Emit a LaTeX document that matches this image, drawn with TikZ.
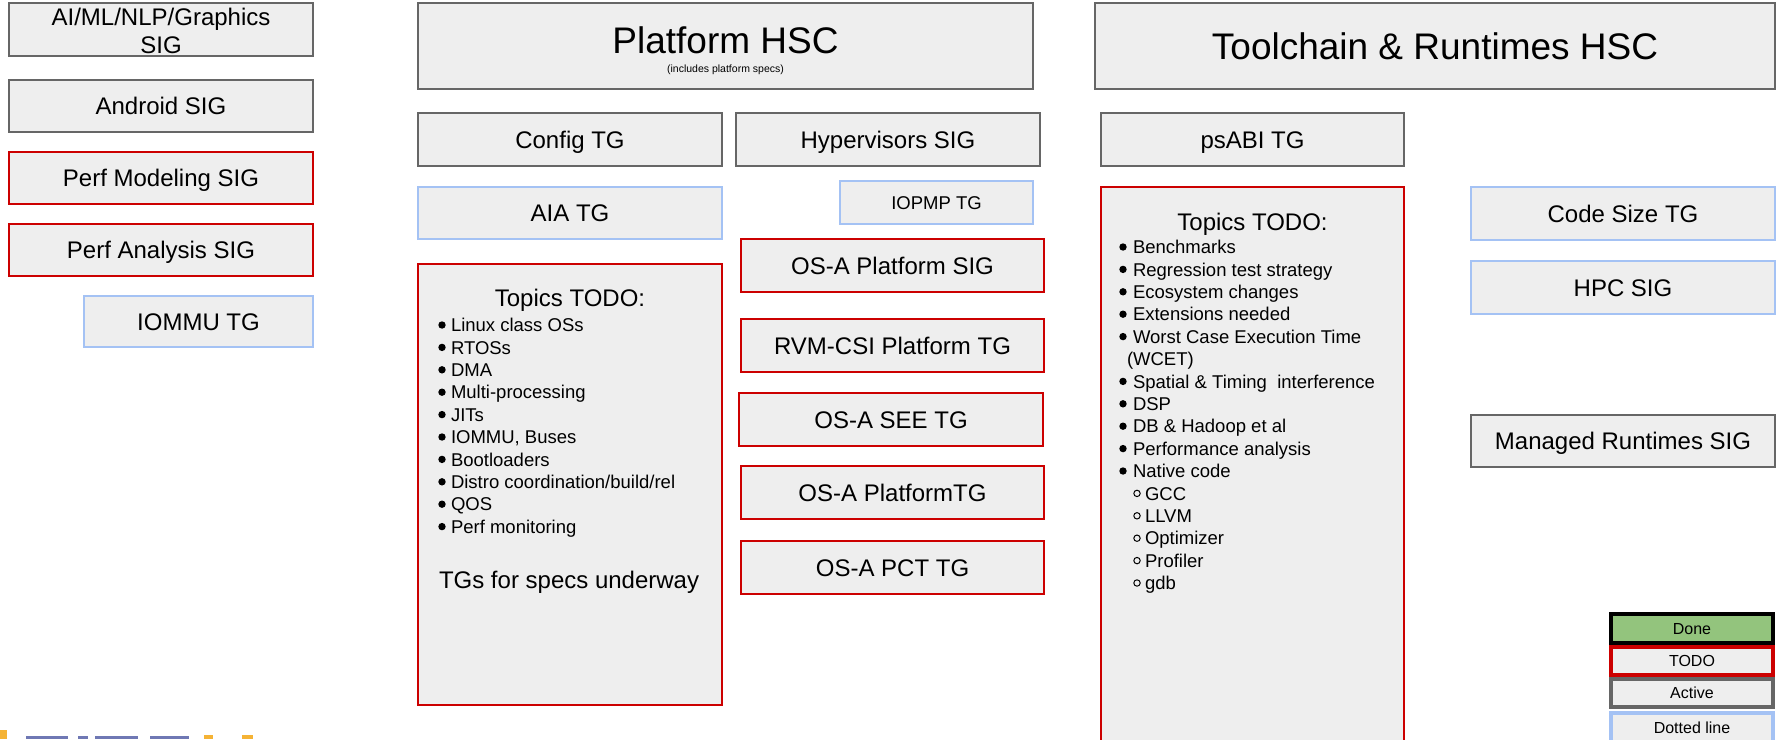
\documentclass[tikz,border=0pt]{standalone}
\usepackage{fontspec}
\setmainfont{Liberation Sans}
\definecolor{gfill}{HTML}{EEEEEE}
\definecolor{gline}{HTML}{666666}
\definecolor{rline}{HTML}{CC0000}
\definecolor{bline}{HTML}{A4C2F4}
\definecolor{donefill}{HTML}{93C47D}
\definecolor{logoorange}{HTML}{F5B335}
\definecolor{logoblue}{HTML}{6F78B4}
\newcommand\orgbox[7]{%
  \pgfmathsetmacro\obw{#5-#3}%
  \pgfmathsetmacro\obh{#6-#4}%
  \pgfmathsetmacro\obx{(#3+#5)/2}%
  \pgfmathsetmacro\oby{(#4+#6)/2}%
  \node[#2, minimum width=\obw pt, minimum height=\obh pt] (#1) at (\obx,\oby) {#7};%
}
\begin{document}
\begin{tikzpicture}[x=1pt,y=-1pt,
  base/.style={fill=gfill, line width=2pt, inner sep=0pt, outer sep=0pt, align=center},
  active/.style={base, draw=gline},
  todo/.style={base, draw=rline},
  dotl/.style={base, draw=bline},
  f37/.style={font=\fontsize{37}{42}\selectfont, text height=26.5pt, text depth=0pt},
  f24/.style={font=\fontsize{24}{28}\selectfont, text height=17.2pt, text depth=0pt},
  f18/.style={font=\fontsize{18.5}{22}\selectfont, text height=13.2pt, text depth=0pt},
  f16/.style={font=\fontsize{16}{19}\selectfont, text height=11.5pt, text depth=0pt},
  txt/.style={inner sep=0pt, outer sep=0pt},
  item/.style={txt, anchor=base west, font=\fontsize{18.5}{22}\selectfont},
  legbox/.style={base, line width=3.5pt, f16}
]
\useasboundingbox (0,0) rectangle (1783,739);
\clip (0,0) rectangle (1783,739);

% left column
\orgbox{ai}{active}{9}{3}{313}{56}{}
\node[txt, f24, anchor=base] (ait1) at (161,25) {AI/ML/NLP/Graphics};
\node[txt, f24, anchor=base] (ait2) at (161,53) {SIG};
\orgbox{android}{active,f24}{9}{80}{313}{132}{Android SIG}
\orgbox{perfmod}{todo,f24}{9}{152}{313}{204}{Perf Modeling SIG}
\orgbox{perfan}{todo,f24}{9}{224}{313}{276}{Perf Analysis SIG}
\orgbox{iommu}{dotl,f24}{84}{296}{313}{347}{IOMMU TG}

% platform HSC
\orgbox{phsc}{active}{418}{3}{1033}{89}{}
\node[txt, font=\fontsize{37}{42}\selectfont, anchor=base] (phsct) at (725.5,53) {Platform HSC};
\node[txt, font=\fontsize{10.5}{12}\selectfont, anchor=base] (phscs) at (725.5,72.5) {(includes platform specs)};
\orgbox{config}{active,f24}{418}{113}{722}{166}{Config TG}
\orgbox{hyper}{active,f24}{736}{113}{1040}{166}{Hypervisors SIG}
\orgbox{aia}{dotl,f24}{418}{187}{722}{239}{AIA TG}
\orgbox{iopmp}{dotl,f18}{840}{181}{1033}{224}{IOPMP TG}
\orgbox{osaps}{todo,f24}{741}{239}{1044}{292}{OS-A Platform SIG}
\orgbox{rvm}{todo,f24}{741}{319}{1044}{372}{RVM-CSI Platform TG}
\orgbox{osasee}{todo,f24}{739}{393}{1043}{446}{OS-A SEE TG}
\orgbox{osaptg}{todo,f24}{741}{466}{1044}{519}{OS-A PlatformTG}
\orgbox{osapct}{todo,f24}{741}{541}{1044}{594}{OS-A PCT TG}

% topics box A
\orgbox{topa}{todo}{418}{264}{722}{705}{}
\node[txt, font=\fontsize{24}{28}\selectfont, anchor=base] (tatitle) at (570,306.6) {Topics TODO:};
\foreach \t [count=\i from 0] in {Linux class OSs, RTOSs, DMA, Multi-processing, JITs, {IOMMU,\ Buses}, Bootloaders, Distro coordination/build/rel, QOS, Perf monitoring}{
  \node[item] (ta\i) at (451,{331.6+22.4*\i}) {\t};
  \fill (442,{325+22.4*\i}) circle (3.7);
}
\node[txt, font=\fontsize{24}{28}\selectfont, anchor=base west] (tatgs) at (439,588.6) {TGs for specs underway};

% toolchain HSC
\orgbox{tchsc}{active,f37}{1095}{3}{1775}{89}{Toolchain \& Runtimes HSC}
\orgbox{psabi}{active,f24}{1101}{113}{1404}{166}{psABI TG}
\orgbox{topb}{todo}{1101}{187}{1404}{742}{}
\node[txt, font=\fontsize{24}{28}\selectfont, anchor=base] (tbtitle) at (1252.5,230.6) {Topics TODO:};
\foreach \t/\r in {Benchmarks/0, Regression test strategy/1, Ecosystem changes/2, Extensions needed/3, Worst Case Execution Time/4, Spatial \& Timing~ interference/6, DSP/7, DB \& Hadoop et al/8, Performance analysis/9, Native code/10}{
  \node[item] (tb\r) at (1133,{253.6+22.4*\r}) {\t};
  \fill (1123,{247+22.4*\r}) circle (3.7);
}
\node[item] (tb5) at (1127,{253.6+22.4*5}) {(WCET)};
\foreach \t/\r in {GCC/11, LLVM/12, Optimizer/13, Profiler/14, gdb/15}{
  \node[item] (tb\r) at (1145,{253.6+22.4*\r}) {\t};
  \draw[line width=1pt] (1137,{247+22.4*\r}) circle (3.2);
}
\orgbox{codesize}{dotl,f24}{1471}{187}{1775}{240}{Code Size TG}
\orgbox{hpc}{dotl,f24}{1471}{261}{1775}{314}{HPC SIG}
\orgbox{managed}{active,f24}{1471}{415}{1775}{467}{Managed Runtimes SIG}

% legend
\orgbox{ldone}{legbox, draw=black, fill=donefill}{1611}{614}{1773}{643}{Done}
\orgbox{ltodo}{legbox, draw=rline}{1611}{647}{1773}{675}{TODO}
\orgbox{lactive}{legbox, draw=gline}{1611}{679}{1773}{707}{Active}
\orgbox{ldot}{legbox, draw=bline}{1611}{713}{1773}{742}{Dotted line}

% cut-off logo at bottom left
\fill[logoorange] (0,730) rectangle (7,739);
\fill[logoblue] (26,736) rectangle (68,739);
\fill[logoblue] (78,736) rectangle (88,739);
\fill[logoblue] (95,736) rectangle (138,739);
\fill[logoblue] (150,736) rectangle (189,739);
\fill[logoorange] (204,735) rectangle (213,739);
\fill[logoorange] (242,735) rectangle (253,739);
\end{tikzpicture}
\end{document}
